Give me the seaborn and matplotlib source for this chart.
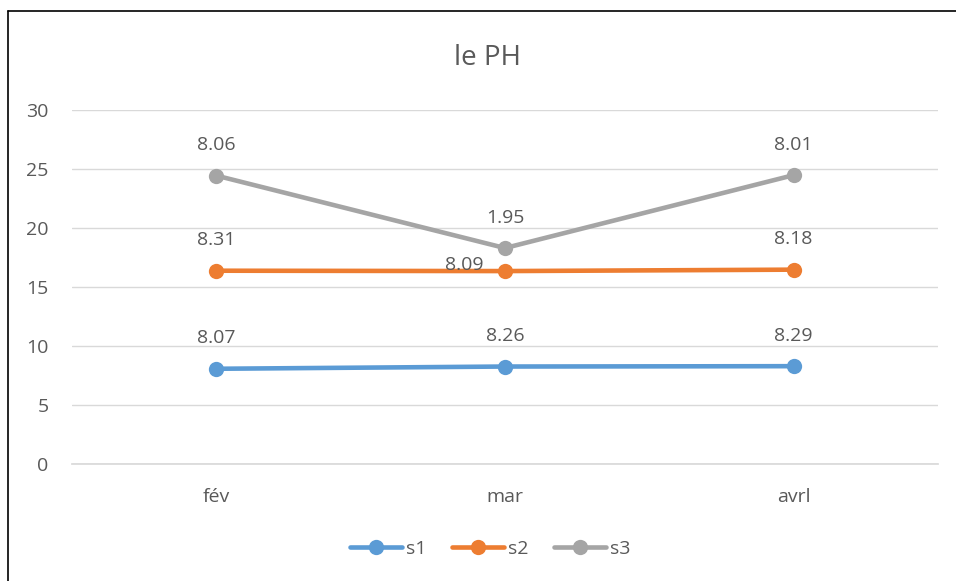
import matplotlib
matplotlib.use("Agg")
import matplotlib.pyplot as plt
import seaborn as sns
import pandas as pd
import numpy as np

categories = ["fév", "mar", "avrl"]
s1 = [8.07, 8.26, 8.29]
s2 = [8.31, 8.09, 8.18]
s3 = [8.06, 1.95, 8.01]
series_names = ["s1", "s2", "s3"]
colors = ["#5B9BD5", "#ED7D31", "#A5A5A5"]
yticks = [0, 5, 10, 15, 20, 25, 30]

sns.set_theme(style="white")
plt.rcParams["font.family"] = ["Open Sans", "DejaVu Sans"]

# stacked line chart
vals = np.array([s1, s2, s3])
stacked = np.cumsum(vals, axis=0)
rows = []
for i, name in enumerate(series_names):
    for j, cat in enumerate(categories):
        rows.append({"cat": cat, "x": j, "y": stacked[i, j], "lab": vals[i, j], "series": name})
df = pd.DataFrame(rows)

fig = plt.figure(figsize=(9.56, 5.81), dpi=100)
ax = fig.add_axes([72/956, 1-464/581, 866/956, 354/581])

sns.lineplot(data=df, x="x", y="y", hue="series", palette=colors, marker="o",
             markersize=11, markeredgewidth=0, linewidth=3.3, ax=ax, legend=True)

txtc = "#595959"
fs = 14
for i, name in enumerate(series_names):
    for j in range(len(categories)):
        off = (0, 22)
        if name == "s2" and j == 1:
            off = (-29, 4.5)
        ax.annotate(f"{vals[i, j]:.2f}", (j, stacked[i, j]), xytext=off,
                    textcoords="offset points", ha="center", va="center",
                    fontsize=fs, color=txtc)

ax.set_xlim(-0.5, 2.5)
ax.set_ylim(0, 30)
ax.set_xticks(range(len(categories)))
ax.set_xticklabels(categories)
ax.set_yticks(yticks)
ax.tick_params(axis="both", colors=txtc, labelsize=fs, length=0)
ax.tick_params(axis="x", pad=17.5)
ax.tick_params(axis="y", pad=17)
ax.grid(axis="y", color="#D9D9D9", linewidth=1)
ax.set_axisbelow(True)
for s in ["top", "right", "left"]:
    ax.spines[s].set_visible(False)
ax.spines["bottom"].set_color("#D9D9D9")
ax.set_xlabel("")
ax.set_ylabel("")

fig.text(487/956, 1-58/581, "le PH", ha="center", va="center", fontsize=20, color=txtc)

handles, labels = ax.get_legend_handles_labels()
ax.legend(handles, labels, loc="center", bbox_to_anchor=(490/956, 1-549/581),
          bbox_transform=fig.transFigure, ncol=3, frameon=False, fontsize=fs,
          labelcolor=txtc, handlelength=2.7, columnspacing=1.3, handletextpad=0.2)

# chart border (top and left visible)
fig.add_artist(plt.Line2D([7.5/956, 7.5/956], [0, 1-11/581], color="black", linewidth=1.2,
                          transform=fig.transFigure))
fig.add_artist(plt.Line2D([7.5/956, 1], [1-11/581, 1-11/581], color="black", linewidth=1.2,
                          transform=fig.transFigure))

fig.savefig("out.png", dpi=100, facecolor="white")
